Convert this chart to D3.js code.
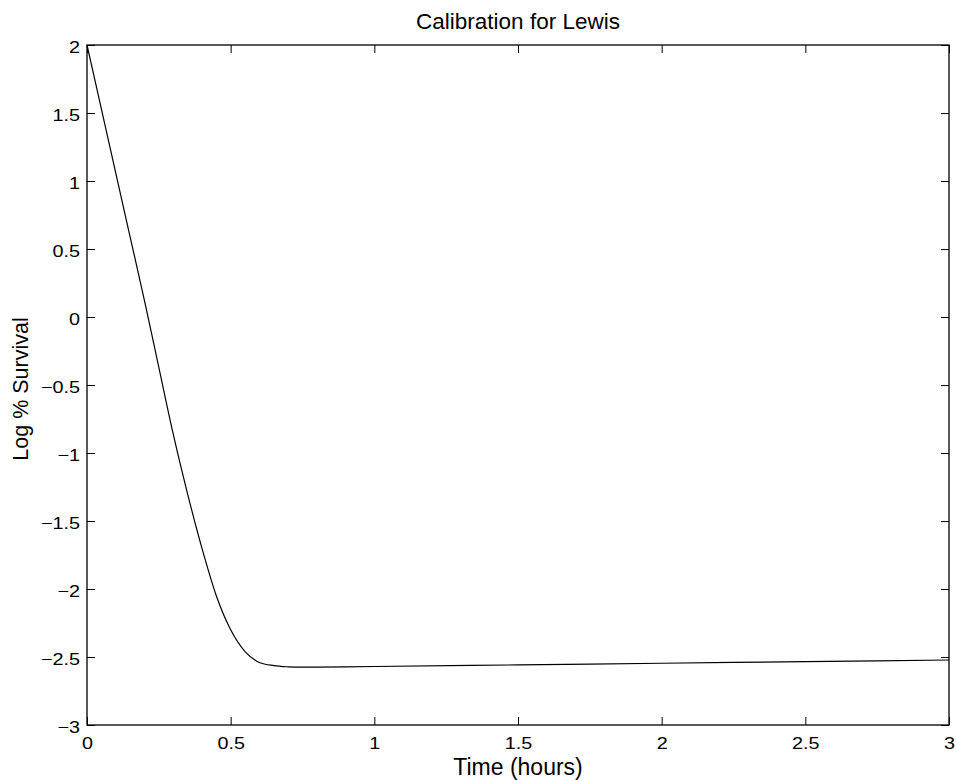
<!DOCTYPE html>
<html>
<head>
<meta charset="utf-8">
<script src="https://cdn.jsdelivr.net/npm/d3@7"></script>
<style>
  html, body { margin: 0; padding: 0; background: #fff; }
  svg { display: block; }
  text { font-family: "Liberation Sans", Arial, Helvetica, sans-serif; fill: #000; }
</style>
</head>
<body>
<svg id="chart" width="956" height="780"></svg>
<script>
// Data
const timeHours = [0, 0.05, 0.1, 0.15, 0.2, 0.25, 0.3, 0.35, 0.4, 0.45, 0.5, 0.55, 0.6, 0.65, 0.7, 0.75, 0.8, 0.9, 1.0, 1.5, 2.0, 2.5, 3.0];
const logSurvival = [2, 1.53, 1.06, 0.59, 0.12, -0.37, -0.86, -1.30, -1.70, -2.05, -2.30, -2.46, -2.54, -2.563, -2.572, -2.575, -2.574, -2.572, -2.570, -2.558, -2.546, -2.534, -2.522];
const xTicks = [0, 0.5, 1, 1.5, 2, 2.5, 3];
const yTicks = [2, 1.5, 1, 0.5, 0, -0.5, -1, -1.5, -2, -2.5, -3];
const titleText = "Calibration for Lewis";
const xLabel = "Time (hours)";
const yLabel = "Log % Survival";

const svg = d3.select("#chart");
const L = 87, R = 949, T = 45, B = 725;

const x = d3.scaleLinear().domain([0, 3]).range([L, R]);
const y = d3.scaleLinear().domain([-3, 2]).range([B, T]);

const fmt = v => String(v).replace("-", "\u2212");
const tickLen = 8;
const tickFont = "16.5px";
const stretch = 1.2;

// Bottom axis
const gB = svg.append("g").attr("transform", `translate(0,${B})`)
  .call(d3.axisBottom(x).tickValues(xTicks).tickFormat(fmt).tickSizeInner(-tickLen).tickSizeOuter(0).tickPadding(24));
// Top axis
const gT = svg.append("g").attr("transform", `translate(0,${T})`)
  .call(d3.axisTop(x).tickValues(xTicks).tickFormat("").tickSizeInner(-tickLen).tickSizeOuter(0));
// Left axis
const gL = svg.append("g").attr("transform", `translate(${L},0)`)
  .call(d3.axisLeft(y).tickValues(yTicks).tickFormat(fmt).tickSizeInner(-tickLen).tickSizeOuter(0).tickPadding(7));
// Right axis
const gR = svg.append("g").attr("transform", `translate(${R},0)`)
  .call(d3.axisRight(y).tickValues(yTicks).tickFormat("").tickSizeInner(-tickLen).tickSizeOuter(0));

[gB, gT, gL, gR].forEach(g => {
  g.select(".domain").remove();
  g.selectAll(".tick line").attr("stroke", "#000").attr("stroke-width", 1);
  g.selectAll(".tick text").style("font-size", tickFont).attr("fill", "#000");
});
gB.selectAll(".tick text")
  .attr("dy", "0")
  .attr("transform", `translate(0,24) scale(${stretch},1)`)
  .attr("y", 0);
gL.selectAll(".tick text")
  .attr("dy", "0.46em")
  .attr("x", 0)
  .attr("transform", `translate(-7,0) scale(${stretch},1)`);

// Box
svg.append("rect")
  .attr("x", L).attr("y", T).attr("width", R - L).attr("height", B - T)
  .attr("fill", "none").attr("stroke", "#000").attr("stroke-width", 1.3);

// Curve
const pts = timeHours.map((t, i) => [t, logSurvival[i]]);
svg.append("path")
  .datum(pts)
  .attr("fill", "none")
  .attr("stroke", "#000")
  .attr("stroke-width", 1.2)
  .attr("d", d3.line().x(d => x(d[0])).y(d => y(d[1])).curve(d3.curveMonotoneX));

// Title
svg.append("text")
  .attr("x", (L + R) / 2).attr("y", 29)
  .attr("text-anchor", "middle")
  .style("font-size", "22.5px")
  .text(titleText);

// X label
svg.append("text")
  .attr("x", (L + R) / 2).attr("y", 775)
  .attr("text-anchor", "middle")
  .style("font-size", "23px")
  .text(xLabel);

// Y label
svg.append("text")
  .attr("transform", `translate(28,389) rotate(-90)`)
  .attr("text-anchor", "middle")
  .style("font-size", "21.5px")
  .text(yLabel);
</script>
</body>
</html>
